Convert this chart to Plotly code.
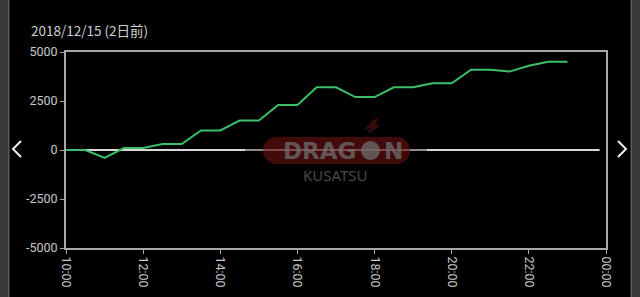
import plotly.graph_objects as go

# ---- data ----
times = ["10:00", "10:30", "11:00", "11:30", "12:00", "12:30", "13:00", "13:30",
         "14:00", "14:30", "15:00", "15:30", "16:00", "16:30", "17:00", "17:30",
         "18:00", "18:30", "19:00", "19:30", "20:00", "20:30", "21:00", "21:30",
         "22:00", "22:30", "23:00"]
values = [0, 0, -400, 100, 100, 300, 300, 1000, 1000, 1500, 1500, 2300, 2300,
          3200, 3200, 2700, 2700, 3200, 3200, 3400, 3400, 4100, 4100, 4000,
          4300, 4500, 4500]
y_ticks = [5000, 2500, 0, -2500, -5000]
title_text = "2018/12/15 (2日前)"
day = "2018-12-15"
x_start = "2018-12-15 10:00"
x_end = "2018-12-16 00:00"

xs = [f"{day} {t}" for t in times]

W, H = 640, 297
L, R, T, B = 66, 606, 52, 248


def px(x):
    return (x - L) / (R - L)


def py(y):
    return (B - y) / (B - T)


fig = go.Figure()

# zero reference line
fig.add_trace(go.Scatter(x=[x_start, "2018-12-15 23:50"], y=[0, 0], mode="lines",
                         line=dict(color="#d8d8d8", width=2), hoverinfo="skip",
                         showlegend=False))
fig.add_trace(go.Scatter(x=xs, y=values, mode="lines",
                         line=dict(color="#3cbf6a", width=2),
                         showlegend=False))

shapes = []
# side bars
shapes.append(dict(type="rect", xref="paper", yref="paper", x0=px(0), x1=px(8),
                   y0=py(H), y1=py(0), fillcolor="#3a3a3a", line_width=0, layer="below"))
shapes.append(dict(type="rect", xref="paper", yref="paper", x0=px(8), x1=px(9.5),
                   y0=py(H), y1=py(0), fillcolor="#5a5a5a", line_width=0, layer="below"))
shapes.append(dict(type="rect", xref="paper", yref="paper", x0=px(630.5), x1=px(632),
                   y0=py(H), y1=py(0), fillcolor="#5a5a5a", line_width=0, layer="below"))
shapes.append(dict(type="rect", xref="paper", yref="paper", x0=px(632), x1=px(W),
                   y0=py(H), y1=py(0), fillcolor="#3a3a3a", line_width=0, layer="below"))

# chevrons
def chevron(pts):
    d = "M {} {} L {} {} L {} {}".format(px(pts[0][0]), py(pts[0][1]),
                                         px(pts[1][0]), py(pts[1][1]),
                                         px(pts[2][0]), py(pts[2][1]))
    return dict(type="path", xref="paper", yref="paper", path=d,
                line=dict(color="#f0f0f0", width=2))

shapes.append(chevron([(21, 141), (13, 149), (21, 157)]))
shapes.append(chevron([(618, 141), (626, 149), (618, 157)]))

# dim overlay for watermark region
shapes.append(dict(type="rect", xref="paper", yref="paper", x0=px(245), x1=px(427),
                   y0=py(190), y1=py(128), fillcolor="rgba(0,0,0,0.35)", line_width=0,
                   layer="above"))

# watermark pill
x0, x1, y0, y1 = 263, 410, 137, 164
r = 13.5
k = 0.55 * r
pts = [
    ("M", (x0 + r, y0)),
    ("L", (x1 - r, y0)),
    ("C", (x1 - r + k, y0), (x1, y0 + r - k), (x1, y0 + r)),
    ("C", (x1, y0 + r + k), (x1 - r + k, y1), (x1 - r, y1)),
    ("L", (x0 + r, y1)),
    ("C", (x0 + r - k, y1), (x0, y1 - r + k), (x0, y1 - r)),
    ("C", (x0, y1 - r - k), (x0 + r - k, y0), (x0 + r, y0)),
]
path = ""
for seg in pts:
    cmd = seg[0]
    coords = " ".join(f"{px(p[0]):.5f},{py(p[1]):.5f}" for p in seg[1:])
    path += f"{cmd} {coords} "
path += "Z"
shapes.append(dict(type="path", xref="paper", yref="paper", path=path,
                   fillcolor="rgba(120,20,20,0.55)", line_width=0, layer="above"))
# flame
fl = [(372, 121), (380, 116), (376, 124), (380, 126), (368, 134), (370, 128), (364, 130)]
fpath = "M " + " L ".join(f"{px(a):.5f},{py(b):.5f}" for a, b in fl) + " Z"
shapes.append(dict(type="path", xref="paper", yref="paper", path=fpath,
                   fillcolor="rgba(110,20,20,0.5)", line_width=0, layer="above"))
# O circle
shapes.append(dict(type="circle", xref="paper", yref="paper",
                   x0=px(361), x1=px(380), y0=py(160), y1=py(141),
                   fillcolor="rgba(110,110,110,0.75)", line_width=0, layer="above"))

annotations = [
    dict(text=title_text, xref="paper", yref="paper", x=px(29), y=py(30),
         xanchor="left", yanchor="middle", showarrow=False,
         font=dict(family="Noto Sans CJK JP", size=13.5, color="#d0d0d0")),
    dict(text="<b>DRAG</b>", xref="paper", yref="paper", x=px(358), y=py(150.5),
         xanchor="right", yanchor="middle", showarrow=False,
         font=dict(family="DejaVu Sans", size=23, color="rgba(110,110,110,0.75)")),
    dict(text="<b>N</b>", xref="paper", yref="paper", x=px(382), y=py(150.5),
         xanchor="left", yanchor="middle", showarrow=False,
         font=dict(family="DejaVu Sans", size=23, color="rgba(110,110,110,0.75)")),
    dict(text="KUSATSU", xref="paper", yref="paper", x=px(335), y=py(175),
         xanchor="center", yanchor="middle", showarrow=False,
         font=dict(family="Noto Sans", size=15, color="#4a4a4a")),
]

axis_common = dict(showgrid=False, zeroline=False, automargin=False,
                   showline=True, linecolor="#a8a8a8", linewidth=2, mirror=True,
                   ticks="outside", ticklen=4, tickcolor="#a8a8a8", tickwidth=1,
                   tickfont=dict(family="Roboto", size=12.5, color="#c8c8c8"))

fig.update_layout(
    width=W, height=H,
    margin=dict(l=L, r=W - R, t=T, b=H - B, autoexpand=False),
    paper_bgcolor="black", plot_bgcolor="black",
    shapes=shapes, annotations=annotations,
    showlegend=False,
    xaxis=dict(type="date", range=[x_start, x_end], dtick=2 * 3600 * 1000,
               tick0=x_start, tickformat="%H:%M", tickangle=90, **axis_common),
    yaxis=dict(range=[-5000, 5000], tickvals=y_ticks,
               ticktext=[str(v) for v in y_ticks], **axis_common),
)

fig.write_html("out.html")
